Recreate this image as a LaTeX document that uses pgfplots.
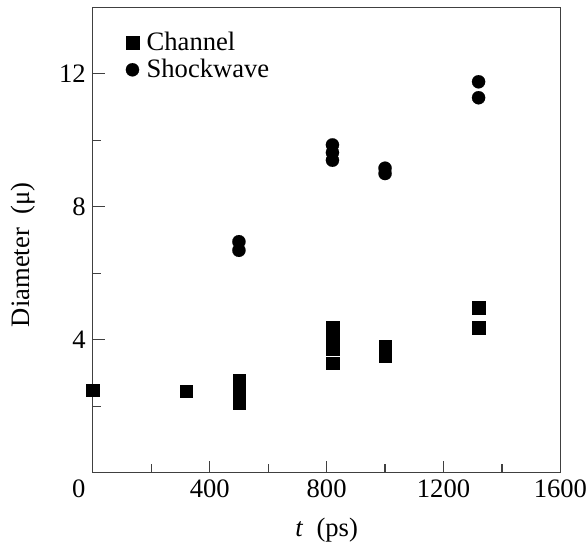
\documentclass[border=0pt]{standalone}
\usepackage{fontspec}
\setmainfont{Liberation Serif}
\usepackage{pgfplots}
\pgfplotsset{compat=1.18}

\begin{document}
\begin{tikzpicture}[font=\fontsize{13.3}{15}\selectfont]
\path[use as bounding box] (-46.4pt,-35.15pt) rectangle (247.1pt,236.35pt);
\begin{axis}[
    at={(0,0)}, anchor=south west,
    scale only axis,
    width=233.8pt, height=232.7pt,
    xmin=0, xmax=1600,
    ymin=0, ymax=14,
    xtick={400,800,1200,1600},
    minor xtick={200,600,1000,1400},
    extra x ticks={0},
    extra x tick labels={0},
    extra x tick style={major tick length=0pt, xticklabel style={xshift=-7pt}},
    ytick={4,8,12},
    minor ytick={2,6,10},
    tick pos=left,
    tick align=inside,
    major tick length=6.1pt,
    minor tick length=4.2pt,
    axis line style={black!75, line width=0.65pt},
    every tick/.style={black!75, line width=0.65pt},
    /pgf/number format/assume math mode=true,
    /pgf/number format/1000 sep={},
    xlabel={\textit{t}\ \ (ps)},
    ylabel={Diameter\ \ (μ)},
    xlabel style={at={(axis description cs:0.5,-0.138)}, anchor=base},
    ylabel style={at={(axis description cs:-0.149,0.468)}, anchor=center},
    legend style={at={(axis description cs:0.057,0.965)}, anchor=north west,
        draw=none, fill=none, row sep=-1.2pt, column sep=1.8pt,
        font=\fontsize{13.3}{15}\selectfont},
    legend cell align=left,
    legend image code/.code={\draw[#1] plot coordinates {(0.25cm,0cm)};},
]
\addplot[only marks, mark=square*, mark size=3.1pt,
    mark options={fill=black, draw=black, line width=0.1pt}] coordinates {
    (0,2.48) (320,2.46)
    (500,2.78) (500,2.43) (500,2.1)
    (820,4.37) (820,3.94) (820,3.72) (820,3.29)
    (1000,3.8) (1000,3.5)
    (1320,4.97) (1320,4.37)
};
\addlegendentry{Channel}
\addplot[only marks, mark=*, mark size=3.3pt,
    mark options={fill=black, draw=black, line width=0.1pt}] coordinates {
    (500,6.95) (500,6.69)
    (820,9.86) (820,9.63) (820,9.40)
    (1000,9.16) (1000,9.0)
    (1320,11.76) (1320,11.28)
};
\addlegendentry{Shockwave}
\end{axis}
\end{tikzpicture}
\end{document}
